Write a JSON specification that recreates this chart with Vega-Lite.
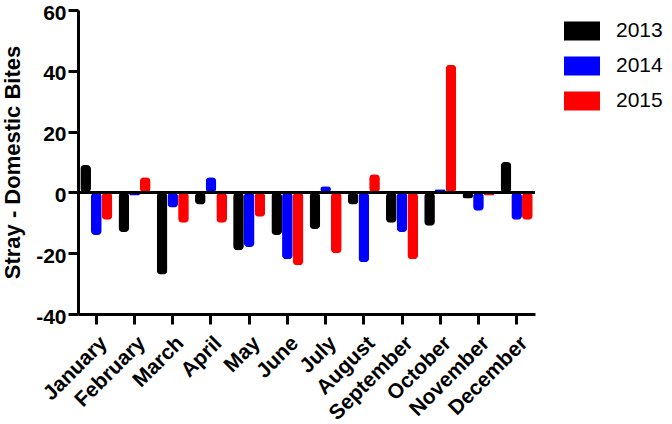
{
  "$schema": "https://vega.github.io/schema/vega-lite/v6.json",
  "autosize": {"type": "none"},
  "padding": {"left": 78, "top": 10, "right": 137, "bottom": 110},
  "width": 457,
  "height": 304,
  "data": {
    "values": [
      {"month": "January", "year": "2013", "value": 9},
      {"month": "January", "year": "2014", "value": -14},
      {"month": "January", "year": "2015", "value": -9},
      {"month": "February", "year": "2013", "value": -13},
      {"month": "February", "year": "2014", "value": -1},
      {"month": "February", "year": "2015", "value": 5},
      {"month": "March", "year": "2013", "value": -27},
      {"month": "March", "year": "2014", "value": -5},
      {"month": "March", "year": "2015", "value": -10},
      {"month": "April", "year": "2013", "value": -4},
      {"month": "April", "year": "2014", "value": 5},
      {"month": "April", "year": "2015", "value": -10},
      {"month": "May", "year": "2013", "value": -19},
      {"month": "May", "year": "2014", "value": -18},
      {"month": "May", "year": "2015", "value": -8},
      {"month": "June", "year": "2013", "value": -14},
      {"month": "June", "year": "2014", "value": -22},
      {"month": "June", "year": "2015", "value": -24},
      {"month": "July", "year": "2013", "value": -12},
      {"month": "July", "year": "2014", "value": 2},
      {"month": "July", "year": "2015", "value": -20},
      {"month": "August", "year": "2013", "value": -4},
      {"month": "August", "year": "2014", "value": -23},
      {"month": "August", "year": "2015", "value": 6},
      {"month": "September", "year": "2013", "value": -10},
      {"month": "September", "year": "2014", "value": -13},
      {"month": "September", "year": "2015", "value": -22},
      {"month": "October", "year": "2013", "value": -11},
      {"month": "October", "year": "2014", "value": 1},
      {"month": "October", "year": "2015", "value": 42},
      {"month": "November", "year": "2013", "value": -2},
      {"month": "November", "year": "2014", "value": -6},
      {"month": "November", "year": "2015", "value": -1},
      {"month": "December", "year": "2013", "value": 10},
      {"month": "December", "year": "2014", "value": -9},
      {"month": "December", "year": "2015", "value": -9}
    ]
  },
  "layer": [
    {
      "mark": {"type": "bar", "cornerRadius": 4},
      "encoding": {
        "x": {
          "field": "month",
          "type": "nominal",
          "sort": null,
          "scale": {"paddingInner": 0.16, "paddingOuter": 0.06},
          "axis": {
            "title": null,
            "labelAngle": -45,
            "labelAlign": "right",
            "labelBaseline": "top",
            "labelFont": "Liberation Sans",
            "labelFontWeight": "bold",
            "labelFontSize": 21,
            "labelColor": "black",
            "labelPadding": 8,
            "domainColor": "black",
            "domainWidth": 3,
            "tickColor": "black",
            "tickWidth": 3,
            "tickSize": 10
          }
        },
        "xOffset": {"field": "year", "type": "nominal", "scale": {"paddingInner": 0}},
        "y": {
          "field": "value",
          "type": "quantitative",
          "scale": {"domain": [-40, 60], "nice": false},
          "axis": {
            "title": "Stray - Domestic Bites",
            "values": [-40, -20, 0, 20, 40, 60],
            "labelExpr": "'' + datum.value",
            "grid": false,
            "labelFont": "Liberation Sans",
            "labelFontWeight": "bold",
            "labelFontSize": 21,
            "labelColor": "black",
            "labelPadding": 2,
            "labelOffset": 3,
            "titleFont": "Liberation Sans",
            "titleFontWeight": "bold",
            "titleFontSize": 22,
            "titleColor": "black",
            "titlePadding": 11,
            "domainColor": "black",
            "domainWidth": 3,
            "tickColor": "black",
            "tickWidth": 3,
            "tickSize": 10
          }
        },
        "color": {
          "field": "year",
          "type": "nominal",
          "scale": {"domain": ["2013", "2014", "2015"], "range": ["#000000", "#0000ff", "#ff0000"]},
          "legend": {
            "title": null,
            "orient": "none",
            "legendX": 486,
            "legendY": 3,
            "symbolType": "M-1,-0.53H1V0.53H-1Z",
            "symbolSize": 1296,
            "symbolStrokeWidth": 0,
            "labelFont": "Liberation Sans",
            "labelFontSize": 21,
            "labelColor": "black",
            "labelOffset": 16,
            "rowPadding": 7
          }
        }
      }
    },
    {
      "mark": {"type": "rule", "color": "black", "strokeWidth": 3},
      "encoding": {"y": {"datum": 0}}
    }
  ],
  "config": {"view": {"stroke": null}}
}
